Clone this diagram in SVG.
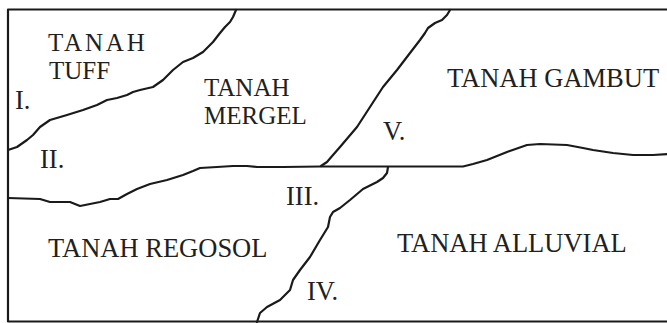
<svg xmlns="http://www.w3.org/2000/svg" width="667" height="323" viewBox="0 0 667 323">
<style>
.b{fill:none;stroke:#1a1a1a;stroke-width:2.2;stroke-linejoin:round;stroke-linecap:round}
.t{font-family:"Liberation Serif","Times New Roman",serif;font-size:26.5px;fill:#231f20}
.s{font-size:25px}
</style>
<rect width="667" height="323" fill="#fff"/>
<g id="connectors">
<path class="b" d="M670 9.5 H8 V321.5 H670"/>
<path id="edge-tuff-mergel" class="b" d="M236 10 L233 17 L230 22 L225 27 L220 33 L213 42 L203 52 L193 58 L183 62 L173 70 L163 80 L153 87 L140 90 L133 92 L127 95 L117 98 L107 100 L97 105 L83 110 L67 115 L50 120 L40 127 L33 135 L27 140 L17 147 L8 150"/>
<path id="edge-mergel-regosol" class="b" d="M8 198 L40 199 L50 202 L60 202 L70 202 L80 206 L90 204 L100 202 L110 199 L118 199 L127 194 L137 189 L150 184 L167 180 L183 175 L193 171 L200 168 L217 167 L233 166 L247 166 L257 167 L283 167 L320 166.5 L463 166.5 L473 164 L487 160 L507 152 L527 145 L540 144 L567 145 L583 148 L593 150 L613 153 L633 155 L653 155 L668 154"/>
<path id="edge-mergel-gambut" class="b" d="M450 10 L447 15 L442 20 L435 23 L428 28 L425 33 L420 40 L410 53 L397 70 L383 87 L370 107 L357 127 L340 147 L333 155 L327 162 L321 166"/>
<path id="edge-regosol-alluvial" class="b" d="M388 167 L387 173 L383 178 L377 182 L363 189 L350 200 L340 208 L333 212 L330 217 L328 227 L320 240 L310 257 L300 270 L293 280 L290 290 L280 300 L267 307 L260 313 L257 322"/>
</g>
<g id="node-tuff"><text class="t s"><tspan x="48" y="51" letter-spacing="2.8">TANAH</tspan><tspan x="49" y="79">TUFF</tspan></text></g>
<g id="node-mergel"><text class="t s"><tspan x="204" y="96">TANAH</tspan><tspan x="204" y="124">MERGEL</tspan></text></g>
<g id="node-gambut"><text class="t" x="447" y="87">TANAH GAMBUT</text></g>
<g id="node-regosol"><text class="t" x="48" y="257">TANAH REGOSOL</text></g>
<g id="node-alluvial"><text class="t" x="397" y="252">TANAH ALLUVIAL</text></g>
<g id="labels">
<text class="t" x="15" y="109">I.</text>
<text class="t" x="40" y="168">II.</text>
<text class="t" x="286" y="205">III.</text>
<text class="t" x="307" y="300">IV.</text>
<text class="t" x="383" y="140">V.</text>
</g>
</svg>
